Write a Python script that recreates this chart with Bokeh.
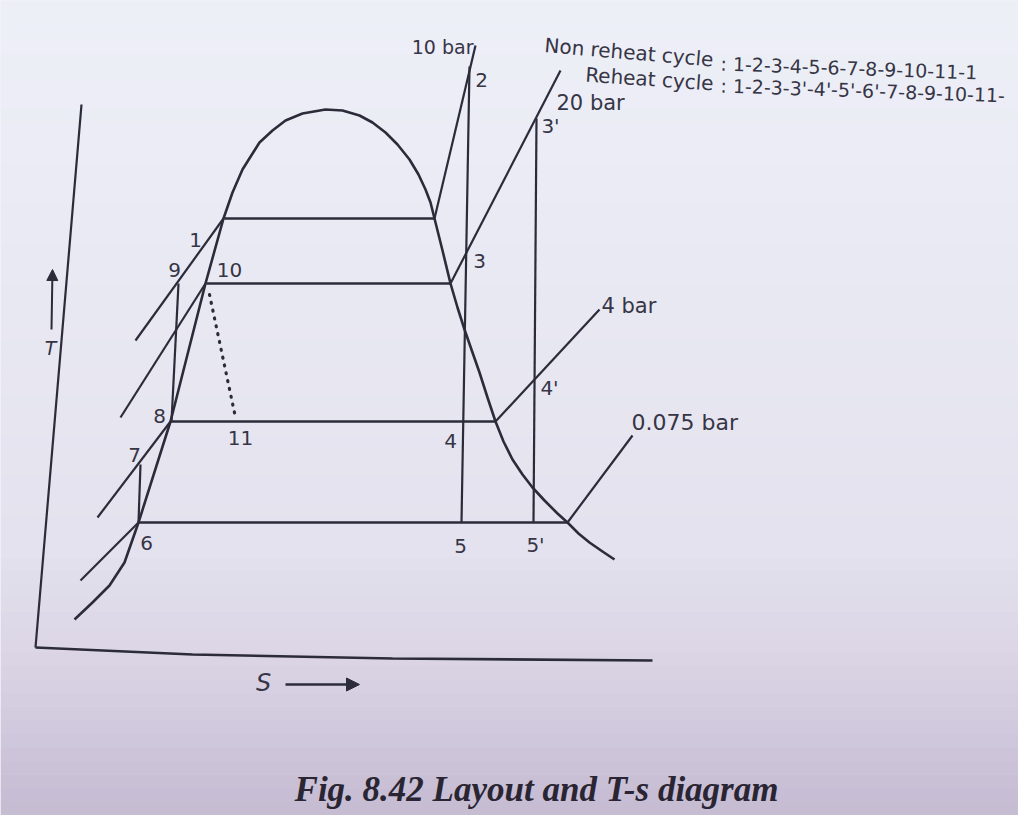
from bokeh.plotting import figure
from bokeh.models import Range1d, Arrow, NormalHead
from bokeh.core.properties import value
from bokeh.embed import file_html
from bokeh.resources import INLINE

# ---------------- data (s, T in diagram units) ----------------
# saturation dome (liquid line + vapour line)
dome_s = [82, 100, 117, 132, 146, 178, 213, 231, 240, 250, 267, 280, 293, 310, 333, 350,
          367, 380, 393, 405, 417, 426, 433, 438, 442, 450, 458, 465, 472, 480, 487, 495,
          503, 511, 520, 530, 540, 552, 565, 575, 586, 597, 610, 622]
dome_T = [204, 221, 238, 261, 301, 402, 540, 605, 631, 654, 681, 693, 703, 710, 714, 713,
          708, 701, 691, 679, 664, 649, 634, 621, 605, 573, 540, 516, 494, 471, 451, 426,
          402, 382, 364, 349, 336, 323, 310, 301, 290, 281, 272, 264]

# constant-pressure lines in the wet region (horizontal)
wet_T = [605, 540, 402, 301]
wet_s_left = [232, 214, 178, 146]
wet_s_right = [442, 458, 503, 575]

# constant-pressure lines in the superheat region
sup_s0 = [442, 458, 503, 575]
sup_T0 = [605, 540, 402, 301]
sup_s1 = [483, 568, 607, 640]
sup_T1 = [778, 753, 514, 388]
sup_names = ["10 bar", "20 bar", "4 bar", "0.075 bar"]
sup_label_s = [481, 564, 609, 639]
sup_label_T = [777, 721, 518, 401]
sup_label_size = ["19px", "21px", "21px", "22px"]
sup_label_align = ["right", "left", "left", "left"]

# isentropic expansions 2-3-4-5 and 3'-4'-5'
exp_s_top = [477, 544]
exp_T_top = [757, 705]
exp_s_bot = [469, 541]
exp_T_bot = [301, 301]

# compressed-liquid pressure lines (left)
liq_s0 = [143, 128, 105, 88]
liq_T0 = [483, 406, 306, 243]
liq_s1 = [231, 213, 178, 146]
liq_T1 = [605, 540, 402, 301]

# pump lines 9-8 and 7-6
pump_s0 = [186, 148]
pump_T0 = [540, 359]
pump_s1 = [179, 146]
pump_T1 = [402, 301]

# throttling 10-11 (dotted)
thr_s = [217, 243]
thr_T = [529, 406]

# state point labels
pt_names = ["1", "9", "10", "8", "11", "7", "6", "4", "5", "5'", "3", "2", "3'", "4'"]
pt_s = [203, 182, 237, 167, 248, 142, 154, 458, 468, 543, 487, 489, 558, 557]
pt_T = [584, 554, 554, 408, 386, 369, 281, 383, 278, 279, 563, 744, 698, 436]

# axes of the sketch
t_axis_s = [89, 43]
t_axis_T = [719, 176]
s_axis_s = [43, 200, 400, 660]
s_axis_T = [176, 169, 165, 163]

# cycle description
cycle_names = ["Non reheat cycle", "Reheat cycle"]
cycle_name_s = [721, 721]
cycle_name_T = [764, 740]
cycle_name_angle = [-0.085, -0.07]
cycle_seqs = [": 1-2-3-4-5-6-7-8-9-10-11-1", ": 1-2-3-3'-4'-5'-6'-7-8-9-10-11-"]
cycle_seq_s = [728, 728]
cycle_seq_T = [760, 738]
cycle_seq_angle = [-0.035, -0.035]

caption = "Fig. 8.42 Layout and T-s diagram"

# ---------------- drawing ----------------
INK = "#2c2b3a"
TXT = "#363545"
W, H = 1018, 815
p = figure(width=W, height=H, x_range=Range1d(8, 8 + W), y_range=Range1d(8, 8 + H),
           output_backend="svg", toolbar_location=None, min_border=0,
           x_axis_location=None, y_axis_location=None)
p.grid.visible = False
p.outline_line_color = None
p.background_fill_color = "#e8e8f2"
p.border_fill_color = "#ffffff"

# paper shading (photo background)
stops = [(0, (238, 240, 248)), (300, (233, 233, 243)), (560, (228, 226, 238)),
         (680, (218, 211, 228)), (760, (206, 197, 218)), (831, (196, 187, 210))]
nb = 60
lefts, rights, tops, bots, cols = [], [], [], [], []
for i in range(nb):
    y0 = 8 + i * H / nb
    y1 = 8 + (i + 1) * H / nb
    py = 831 - (y0 + y1) / 2
    for (a, ca), (b, cb) in zip(stops[:-1], stops[1:]):
        if a <= py <= b:
            f = (py - a) / (b - a)
            c = tuple(int(ca[k] + f * (cb[k] - ca[k])) for k in range(3))
            break
    lefts.append(8); rights.append(8 + W); bots.append(y0); tops.append(y1 + 0.5)
    cols.append("#%02x%02x%02x" % c)
p.quad(left=lefts, right=rights, top=tops, bottom=bots, fill_color=cols, line_color=None)

# axes
p.line(t_axis_s, t_axis_T, line_color=INK, line_width=2.2)
p.line(s_axis_s, s_axis_T, line_color=INK, line_width=2.6)

# dome
p.line(dome_s, dome_T, line_color=INK, line_width=2.6, line_join="round")

# wet-region pressure lines
p.segment(x0=wet_s_left, y0=wet_T, x1=wet_s_right, y1=wet_T, line_color=INK, line_width=2.4)
# superheat pressure lines
p.segment(x0=sup_s0, y0=sup_T0, x1=sup_s1, y1=sup_T1, line_color=INK, line_width=2.2)
# expansions
p.segment(x0=exp_s_top, y0=exp_T_top, x1=exp_s_bot, y1=exp_T_bot, line_color=INK, line_width=2.2)
# liquid lines
p.segment(x0=liq_s0, y0=liq_T0, x1=liq_s1, y1=liq_T1, line_color=INK, line_width=2.2)
# pumps
p.segment(x0=pump_s0, y0=pump_T0, x1=pump_s1, y1=pump_T1, line_color=INK, line_width=2.2)
# throttling (dotted)
p.line(thr_s, thr_T, line_color=INK, line_width=3.2, line_dash="1 7", line_cap="round")

FONT = value("DejaVu Sans")
p.text(x=pt_s, y=pt_T, text=pt_names, text_font=FONT, text_font_size=value("20px"),
       text_color=TXT, text_align="center", text_baseline="middle")
p.text(x=sup_label_s, y=sup_label_T, text=sup_names, text_font=FONT,
       text_font_size=sup_label_size, text_color=TXT, text_align=sup_label_align,
       text_baseline="middle")
p.text(x=cycle_name_s, y=cycle_name_T, text=cycle_names, text_font=FONT,
       text_font_size=value("20px"), text_color=TXT, text_align="right",
       text_baseline="middle", angle=cycle_name_angle)
p.text(x=cycle_seq_s, y=cycle_seq_T, text=cycle_seqs, text_font=FONT,
       text_font_size=value("19px"), text_color=TXT, text_align="left",
       text_baseline="middle", angle=cycle_seq_angle)

# axis titles with arrows
p.text(x=[58], y=[476], text=["T"], text_font=FONT, text_font_size=value("19px"),
       text_font_style="italic", text_color=TXT, text_align="center", text_baseline="middle")
p.add_layout(Arrow(end=NormalHead(size=11, fill_color=INK, line_color=INK),
                   x_start=59, y_start=494, x_end=60, y_end=554, line_color=INK, line_width=2))
p.text(x=[271], y=[141], text=["S"], text_font=FONT, text_font_size=value("24px"),
       text_font_style="italic", text_color=TXT, text_align="center", text_baseline="middle")
p.add_layout(Arrow(end=NormalHead(size=13, fill_color=INK, line_color=INK),
                   x_start=293, y_start=139, x_end=367, y_end=139, line_color=INK, line_width=2.4))

# caption
p.text(x=[544], y=[34], text=[caption], text_font=value("Liberation Serif"),
       text_font_size=value("35px"), text_font_style="bold italic", text_color="#2a2532",
       text_align="center", text_baseline="middle")

open("out.html", "w").write(file_html(p, INLINE))
